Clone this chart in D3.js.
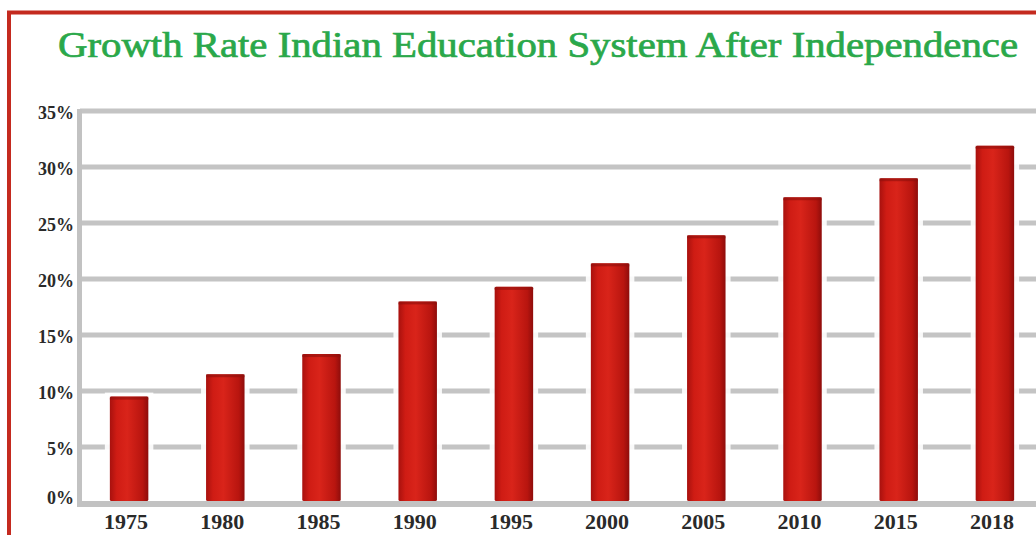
<!DOCTYPE html>
<html><head><meta charset="utf-8">
<script src="https://cdn.jsdelivr.net/npm/d3@7"></script>
<style>html,body{margin:0;padding:0;background:#fff;overflow:hidden}</style>
</head><body>
<svg id="chart" width="1036" height="535"></svg>
<script>
const title = "Growth Rate Indian Education System After Independence";
const years = ["1975","1980","1985","1990","1995","2000","2005","2010","2015","2018"];
const rates = [9.5, 11.5, 13.3, 18.0, 19.3, 21.4, 23.9, 27.3, 29.0, 31.9];
const yTicks = [0, 5, 10, 15, 20, 25, 30, 35];

const svg = d3.select("#chart");
const W = 1036, H = 535;
svg.append("rect").attr("width", W).attr("height", H).attr("fill", "#fff");

// red frame
svg.append("rect").attr("x", 9).attr("y", 12.5).attr("width", W + 20).attr("height", H + 20)
  .attr("fill", "none").attr("stroke", "#c42a1f").attr("stroke-width", 4);

// gradient for bars
const defs = svg.append("defs");
const g = defs.append("linearGradient").attr("id", "barGrad").attr("x1", "0").attr("x2", "1").attr("y1", "0").attr("y2", "0");
g.append("stop").attr("offset", "0%").attr("stop-color", "#a8110e");
g.append("stop").attr("offset", "18%").attr("stop-color", "#cf1c14");
g.append("stop").attr("offset", "45%").attr("stop-color", "#d9241a");
g.append("stop").attr("offset", "85%").attr("stop-color", "#b8150f");
g.append("stop").attr("offset", "100%").attr("stop-color", "#8e0d0b");

const x = d3.scaleBand().domain(years).range([81, 1043]).paddingInner(0.6).paddingOuter(0.3);
const y = d3.scaleLinear().domain([0, 35]).range([503, 111]);

// title
svg.append("text").attr("x", 538).attr("y", 57).attr("text-anchor", "middle")
  .attr("font-family", "Liberation Serif, serif").attr("font-size", 35)
  .attr("fill", "#2aa84a").attr("stroke", "#2aa84a").attr("stroke-width", 0.7)
  .attr("textLength", 960).attr("lengthAdjust", "spacingAndGlyphs")
  .text(title);

// gridlines
const grid = svg.append("g");
grid.selectAll("line").data(yTicks.filter(d => d > 0)).join("line")
  .attr("x1", 80).attr("x2", W).attr("y1", d => y(d)).attr("y2", d => y(d))
  .attr("stroke", "#c4c4c4").attr("stroke-width", 5);

// axis lines
svg.append("line").attr("x1", 79.5).attr("x2", 79.5).attr("y1", y(35) - 2).attr("y2", y(0) + 4)
  .attr("stroke", "#c2c2c2").attr("stroke-width", 5);
svg.append("line").attr("x1", 77).attr("x2", W).attr("y1", y(0) + 1).attr("y2", y(0) + 1)
  .attr("stroke", "#c2c2c2").attr("stroke-width", 6);

// bars with white halo
const bars = svg.append("g");
bars.selectAll("rect.halo").data(years).join("rect").attr("class", "halo")
  .attr("x", d => x(d) - 5).attr("width", x.bandwidth() + 10)
  .attr("y", (d, i) => y(rates[i]) - 4).attr("height", (d, i) => y(0) - 2 - y(rates[i]) + 4)
  .attr("fill", "#fff").attr("opacity", 0.9);
bars.selectAll("rect.bar").data(years).join("rect").attr("class", "bar")
  .attr("x", d => x(d)).attr("width", x.bandwidth())
  .attr("y", (d, i) => y(rates[i])).attr("height", (d, i) => y(0) - 2 - y(rates[i]))
  .attr("fill", "url(#barGrad)").attr("rx", 1.5);
bars.selectAll("rect.cap").data(years).join("rect").attr("class", "cap")
  .attr("x", d => x(d)).attr("width", x.bandwidth())
  .attr("y", (d, i) => y(rates[i])).attr("height", 3)
  .attr("fill", "#8e0f0c").attr("opacity", 0.6);

// y axis labels
const yAxis = d3.axisLeft(y).tickValues(yTicks).tickFormat(d => d + "%").tickSize(0).tickPadding(0);
const ya = svg.append("g").attr("transform", "translate(74,0)").call(yAxis);
ya.select(".domain").remove();
ya.selectAll("text").attr("font-family", "Liberation Serif, serif").attr("font-weight", "bold")
  .attr("font-size", 18).attr("fill", "#2a2a2a").attr("dy", "0.4em");
ya.selectAll(".tick").filter(d => d === 0).select("text").attr("dy", "0.05em");

// x axis labels
const xAxis = d3.axisBottom(x).tickSize(0).tickPadding(0);
const xa = svg.append("g").attr("transform", "translate(-3,529)").call(xAxis);
xa.select(".domain").remove();
xa.selectAll("text").attr("font-family", "Liberation Serif, serif").attr("font-weight", "bold")
  .attr("font-size", 22).attr("fill", "#2a2a2a").attr("dy", 0);
</script>
</body></html>
